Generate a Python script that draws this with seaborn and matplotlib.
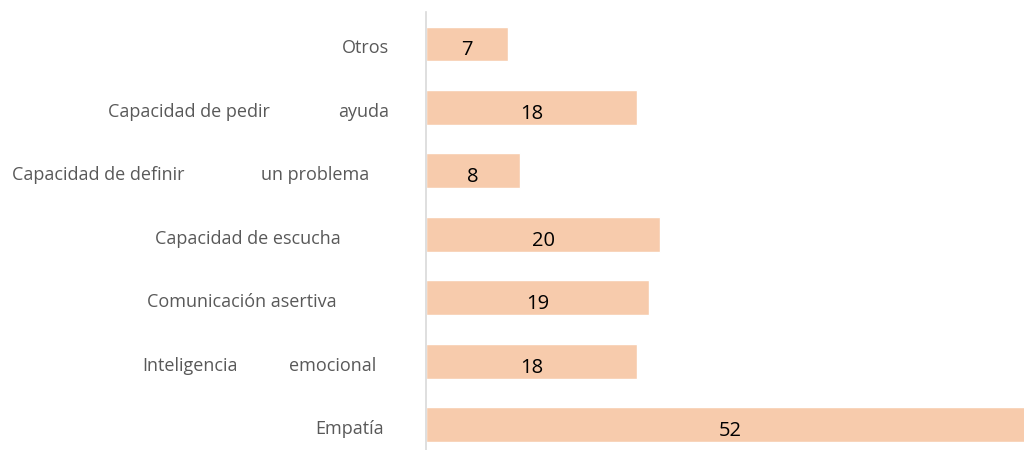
import matplotlib
matplotlib.use("Agg")
import matplotlib.pyplot as plt
import seaborn as sns
import pandas as pd

# label text is split in two pieces, like the original
label_left = ["Otros", "Capacidad de pedir", "Capacidad de definir",
              "Capacidad de escucha", "Comunicación asertiva",
              "Inteligencia", "Empatía"]
label_right = ["", "ayuda", "un problema", "", "", "emocional", ""]
values = [7, 18, 8, 20, 19, 18, 52]

# layout: right end of each label piece, in pixels left of the axis line
right_end = [37, 37, 57, 85, 89, 50, 42]
left_end = [37, 156, 241, 85, 89, 188, 42]

sns.set_style("white")
plt.rcParams['font.family'] = ['Open Sans', 'DejaVu Sans']

W, H = 1024, 450
fig = plt.figure(figsize=(W / 100, H / 100), dpi=100)
ax_x = 426
ax = fig.add_axes([ax_x / W, 0, (1035 - ax_x) / W, 438 / H])

df = pd.DataFrame({"cat": label_left, "val": values})
sns.barplot(data=df, x="val", y="cat", orient="h", color="#F7CBAC",
            saturation=1, width=0.55, ax=ax)

ax.set_xlim(0, 52)
ax.set_ylim(6.40, -0.505)
ax.set_xlabel("")
ax.set_ylabel("")
ax.set_xticks([])
ax.set_yticks([])
for s in ["top", "right", "bottom"]:
    ax.spines[s].set_visible(False)
ax.spines["left"].set_color("#D9D9D9")
ax.spines["left"].set_linewidth(1.2)

for i, v in enumerate(values):
    ax.text(v / 2, i + 0.1, str(v), ha="center", va="center",
            fontsize=14.5, color="black")

for i in range(len(values)):
    ax.annotate(label_left[i], xy=(0, i + 0.07), xycoords=("axes fraction", "data"),
                xytext=(-left_end[i], 0), textcoords="offset pixels",
                ha="right", va="center", fontsize=13, color="#595959",
                annotation_clip=False)
    if label_right[i]:
        ax.annotate(label_right[i], xy=(0, i + 0.07), xycoords=("axes fraction", "data"),
                    xytext=(-right_end[i], 0), textcoords="offset pixels",
                    ha="right", va="center", fontsize=13, color="#595959",
                    annotation_clip=False)

fig.savefig("out.png", dpi=100)
